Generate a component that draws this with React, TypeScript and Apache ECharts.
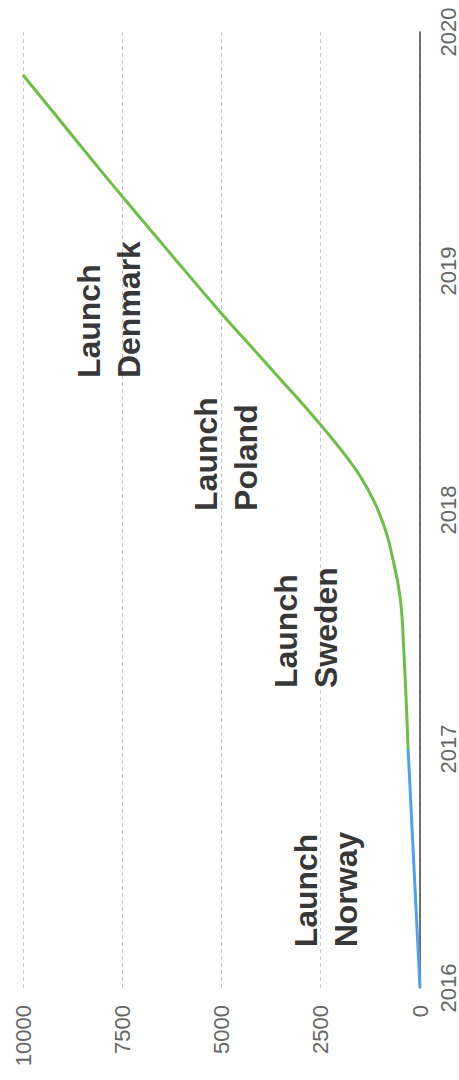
import React, { useEffect, useRef } from "react";
import * as echarts from "echarts";

// Years (vertical axis) and cumulative values (horizontal axis)
const norwayYears = [2016, 2016.5, 2017];
const norwayValues = [0, 150, 300];

const growthYears = [
  2017, 2017.15, 2017.3, 2017.45, 2017.57, 2017.65, 2017.71, 2017.8, 2017.9, 2018.0, 2018.05, 2018.1,
  2018.15, 2018.2, 2018.25, 2018.3, 2018.35, 2018.45, 2018.54, 2018.68, 2018.82, 2019.06, 2019.3,
  2019.42, 2019.62, 2019.82,
];
const growthValues = [
  300, 335, 375, 420, 460, 515, 575, 690, 840, 1060, 1200, 1360,
  1540, 1750, 1980, 2220, 2470, 2990, 3480, 4230, 4990, 6220, 7440,
  8040, 9020, 10000,
];

const launchLabels = ["Launch\nNorway", "Launch\nSweden", "Launch\nPoland", "Launch\nDenmark"];
const launchYears = [2016.17, 2017.255, 2017.996, 2018.552];
const launchValues = [2368, 2872, 4887, 7834];

const valueTicks = { min: 0, max: 10000, interval: 2500 };
const yearTicks = { min: 2016, max: 2020, interval: 1 };

const FONT = "'Liberation Sans', Arial, Helvetica, sans-serif";

export default function App() {
  const ref = useRef<HTMLDivElement>(null);

  useEffect(() => {
    if (!ref.current) return;
    const chart = echarts.init(ref.current, null, { renderer: "svg" });

    const blueData = norwayYears.map((y, i) => [norwayValues[i], y]);
    const greenData = growthYears.map((y, i) => [growthValues[i], y]);
    const labelData = launchYears.map((y, i) => [launchValues[i], y, launchLabels[i]]);

    chart.setOption({
      animation: false,
      backgroundColor: "#ffffff",
      grid: { left: 23, right: 39, top: 32, bottom: 92, containLabel: false },
      xAxis: {
        type: "value",
        min: valueTicks.min,
        max: valueTicks.max,
        interval: valueTicks.interval,
        inverse: true,
        position: "bottom",
        axisLine: { show: false },
        axisTick: { show: false },
        splitLine: { show: true, lineStyle: { type: [4, 3], color: "#c8c8c8", width: 1 } },
        axisLabel: {
          rotate: 90,
          margin: 17,
          fontSize: 22,
          color: "#666",
          fontFamily: FONT,
          formatter: (v: number) => String(v),
        },
      },
      yAxis: {
        type: "value",
        min: yearTicks.min,
        max: yearTicks.max,
        interval: yearTicks.interval,
        position: "right",
        axisLine: { show: true, onZero: false, lineStyle: { color: "#444", width: 1.5 } },
        axisTick: { show: false },
        splitLine: { show: false },
        axisLabel: {
          rotate: 90,
          margin: 17,
          fontSize: 22,
          color: "#666",
          fontFamily: FONT,
          formatter: (v: number) => String(v),
        },
      },
      series: [
        {
          type: "line",
          data: blueData,
          smooth: 0.4,
          showSymbol: false,
          symbol: "none",
          lineStyle: { color: "#4da2f4", width: 3 },
          z: 3,
        },
        {
          type: "line",
          data: greenData,
          smooth: 0.5,
          showSymbol: false,
          symbol: "none",
          lineStyle: { color: "#6cbf45", width: 3 },
          z: 3,
        },
        {
          type: "scatter",
          data: labelData,
          symbolSize: 0,
          silent: true,
          label: {
            show: true,
            position: "inside",
            rotate: 90,
            align: "left",
            verticalAlign: "middle",
            formatter: (p: any) => p.data[2],
            fontSize: 32,
            fontWeight: "bold",
            lineHeight: 40,
            color: "#000",
            fontFamily: FONT,
          },
          z: 4,
        },
      ],
    });

    return () => chart.dispose();
  }, []);

  return (
    <div
      ref={ref}
      style={{ position: "fixed", left: 0, top: 0, width: 459, height: 1080, background: "#fff" }}
    />
  );
}
